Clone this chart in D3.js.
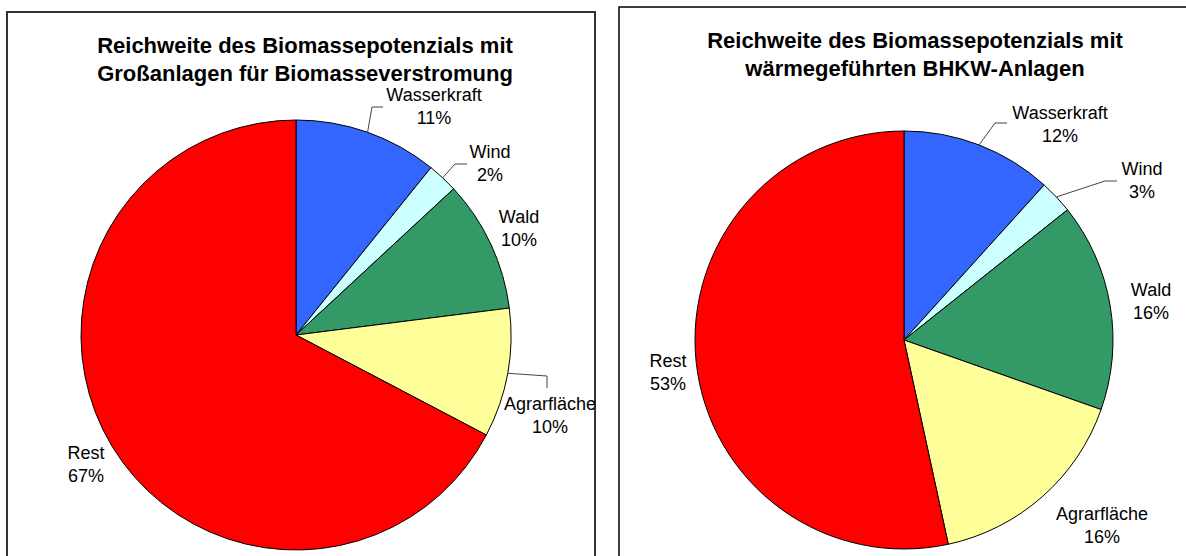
<!DOCTYPE html>
<html>
<head>
<meta charset="utf-8">
<script src="https://cdn.jsdelivr.net/npm/d3@7"></script>
<style>
  body { margin: 0; background: #fff; }
  svg { display: block; font-family: "Liberation Sans", Arial, sans-serif; }
</style>
</head>
<body>
<script>
// data
const categories = ['Wasserkraft', 'Wind', 'Wald', 'Agrarfläche', 'Rest'];
const sharesGross = [10.8, 2.3, 9.9, 9.7, 67.3];
const sharesBhkw = [11.7, 2.6, 16.1, 16.2, 53.4];
const titleGross = ['Reichweite des Biomassepotenzials mit', 'Großanlagen für Biomasseverstromung'];
const titleBhkw = ['Reichweite des Biomassepotenzials mit', 'wärmegeführten BHKW-Anlagen'];

const colors = ['#3366ff', '#ccffff', '#339966', '#ffff99', '#ff0000'];

const W = 1186, H = 556;
const svg = d3.select(document.body).append('svg')
  .attr('width', W)
  .attr('height', H);

// panel layouts: frame, pie, label anchors (text centre x, first baseline) and leader elbows
const panels = [
  {
    shares: sharesGross, title: titleGross,
    frame: {x: 7, y: 12, w: 588, h: 560, stroke: '#333', sw: 2},
    titleX: 305, titleY: 53, titleSize: 22,
    cx: 296, cy: 335, r: 215, labelSize: 18,
    labels: [[434, 101], [490, 158], [519, 223], [550, 410], [86, 459]],
    leaders: [[[372, 107], [383, 107]], [[455, 164], [467, 164]], null, [[547, 376], [547, 388]], null]
  },
  {
    shares: sharesBhkw, title: titleBhkw,
    frame: {x: 619, y: 7, w: 600, h: 580, stroke: '#000', sw: 1.5},
    titleX: 915, titleY: 48, titleSize: 22,
    cx: 904, cy: 340, r: 209, labelSize: 18,
    labels: [[1060, 119], [1142, 175], [1151, 296], [1102, 520], [668, 367]],
    leaders: [[[995, 123], [1007, 123]], [[1105, 181], [1117, 181]], null, null, null]
  }
];

panels.forEach(p => {
  const g = svg.append('g');

  g.append('rect')
    .attr('x', p.frame.x)
    .attr('y', p.frame.y)
    .attr('width', p.frame.w)
    .attr('height', p.frame.h)
    .attr('fill', 'none')
    .attr('stroke', p.frame.stroke)
    .attr('stroke-width', p.frame.sw);

  const title = g.append('text')
    .attr('text-anchor', 'middle')
    .attr('font-weight', 'bold')
    .attr('font-size', p.titleSize);
  title.selectAll('tspan')
    .data(p.title)
    .enter().append('tspan')
    .attr('x', p.titleX)
    .attr('y', (d, i) => p.titleY + i * 28)
    .text(d => d);

  const total = d3.sum(p.shares);
  const pie = d3.pie().sort(null).value(d => d);
  const arcs = pie(p.shares);
  const arc = d3.arc().innerRadius(0).outerRadius(p.r);

  const pg = g.append('g').attr('transform', `translate(${p.cx},${p.cy})`);
  pg.selectAll('path')
    .data(arcs)
    .enter().append('path')
    .attr('d', arc)
    .attr('fill', (d, i) => colors[i])
    .attr('stroke', '#000')
    .attr('stroke-width', 1)
    .attr('stroke-linejoin', 'round');

  // leader lines start on the rim at the slice's middle angle
  arcs.forEach((a, i) => {
    const pts = p.leaders[i];
    if (!pts) return;
    const mid = (a.startAngle + a.endAngle) / 2;
    const start = [p.cx + p.r * Math.sin(mid), p.cy - p.r * Math.cos(mid)];
    g.append('path')
      .attr('d', d3.line()([start].concat(pts)))
      .attr('fill', 'none')
      .attr('stroke', '#444')
      .attr('stroke-width', 1);
  });

  const lab = g.selectAll('.lab')
    .data(arcs)
    .enter().append('text')
    .attr('class', 'lab')
    .attr('text-anchor', 'middle')
    .attr('font-size', p.labelSize)
    .attr('fill', '#000');
  lab.append('tspan')
    .attr('x', (d, i) => p.labels[i][0])
    .attr('y', (d, i) => p.labels[i][1])
    .text((d, i) => categories[i]);
  lab.append('tspan')
    .attr('x', (d, i) => p.labels[i][0])
    .attr('y', (d, i) => p.labels[i][1] + 23)
    .text(d => Math.round(d.data / total * 100) + '%');
});
</script>
</body>
</html>
